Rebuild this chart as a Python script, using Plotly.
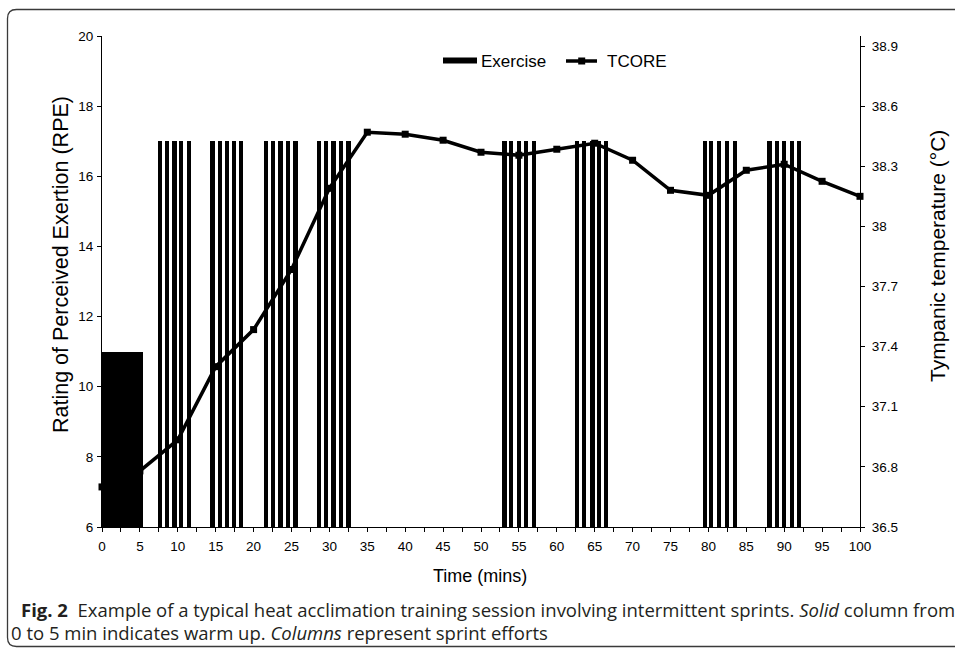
import plotly.graph_objects as go

# ---------------- data ----------------
warmup_time = [2.7]          # centre of the solid warm-up column (min)
warmup_rpe = [11]

sprint_times = [
    7.69, 8.61, 9.56, 10.46, 11.50,
    14.58, 15.53, 16.49, 17.44, 18.38,
    21.64, 22.60, 23.55, 24.50, 25.53,
    28.63, 29.59, 30.54, 31.49, 32.52,
    53.10, 53.98, 55.04, 55.98, 56.97,
    62.69, 63.56, 64.71, 65.53, 66.52,
    79.52, 80.38, 81.36, 82.48, 83.55,
    88.06, 89.05, 90.00, 91.03, 91.93,
]
sprint_rpe = [17] * len(sprint_times)

tcore_time = [0, 5, 10, 15, 20, 25, 30, 35, 40, 45, 50,
              55, 60, 65, 70, 75, 80, 85, 90, 95, 100]
tcore_temp = [36.70, 36.78, 36.935, 37.30, 37.485, 37.785, 38.19, 38.47, 38.46, 38.43, 38.37,
              38.355, 38.385, 38.415, 38.33, 38.18, 38.155, 38.28, 38.31, 38.225, 38.15]

x_tickvals = list(range(0, 101, 5))
rpe_tickvals = [6, 8, 10, 12, 14, 16, 18, 20]
temp_tickvals = [36.5, 36.8, 37.1, 37.4, 37.7, 38.0, 38.3, 38.6, 38.9]
temp_ticktext = ["36.5", "36.8", "37.1", "37.4", "37.7", "38", "38.3", "38.6", "38.9"]

# ---------------- layout geometry ----------------
W, H = 955, 651
L, R, T, B = 102, 95, 36, 124
PW, PH = W - L - R, H - T - B


def px(x):
    return (x - L) / PW


def py(y):
    return (H - B - y) / PH


AX_FONT = "Liberation Sans, Arial, Helvetica, sans-serif"
CAP_FONT = "Open Sans, Noto Sans, sans-serif"

fig = go.Figure()

fig.add_trace(go.Bar(x=warmup_time, y=warmup_rpe, width=[5.4],
                     marker=dict(color="black", line=dict(width=0)),
                     name="Exercise", showlegend=False))
fig.add_trace(go.Bar(x=sprint_times, y=sprint_rpe, width=0.57,
                     marker=dict(color="black", line=dict(width=0)),
                     name="Exercise", showlegend=False))
fig.add_trace(go.Scatter(x=tcore_time, y=tcore_temp, yaxis="y2", mode="lines+markers",
                         line=dict(color="black", width=3.5),
                         marker=dict(symbol="square", size=7, color="black"),
                         cliponaxis=False, name="TCORE", showlegend=False))

axis_common = dict(showgrid=False, zeroline=False, showline=True, linecolor="black",
                   linewidth=1, ticks="outside", ticklen=4, tickcolor="black",
                   tickfont=dict(family=AX_FONT, size=13.5, color="black"))

fig.update_layout(
    width=W, height=H,
    margin=dict(l=L, r=R, t=T, b=B, pad=0),
    paper_bgcolor="white", plot_bgcolor="white",
    bargap=0,
    xaxis=dict(range=[0, 100], tickvals=x_tickvals, ticklabelstandoff=3,
               minor=dict(dtick=2.5, tick0=0, ticks="outside", ticklen=4, tickcolor="black"),
               **axis_common),
    yaxis=dict(range=[6, 20], tickvals=rpe_tickvals, ticklabelstandoff=1, **axis_common),
    yaxis2=dict(range=[36.5, 38.95], tickvals=temp_tickvals, ticktext=temp_ticktext,
                overlaying="y", side="right", ticklabelstandoff=4, **axis_common),
)

# axis titles
fig.add_annotation(text="Time (mins)", xref="paper", yref="paper", x=px(480), y=py(576),
                   xanchor="center", yanchor="middle", showarrow=False,
                   font=dict(family=AX_FONT, size=18, color="black"))
fig.add_annotation(text="Rating of Perceived Exertion (RPE)", xref="paper", yref="paper",
                   x=px(61), y=py(265), textangle=-90, xanchor="center", yanchor="middle",
                   showarrow=False, font=dict(family=AX_FONT, size=21.5, color="black"))
fig.add_annotation(text="Tympanic temperature (°C)", xref="paper", yref="paper",
                   x=px(937), y=py(256), textangle=-90, xanchor="center", yanchor="middle",
                   showarrow=False, font=dict(family=AX_FONT, size=21, color="black"))

# custom legend
fig.add_shape(type="rect", xref="paper", yref="paper", x0=px(443), x1=px(477),
              y0=py(63.5), y1=py(57.5), fillcolor="black", line=dict(width=0))
fig.add_shape(type="line", xref="paper", yref="paper", x0=px(566), x1=px(597),
              y0=py(61), y1=py(61), line=dict(color="black", width=3.5))
fig.add_shape(type="rect", xref="paper", yref="paper", x0=px(578.2), x1=px(585.2),
              y0=py(64.5), y1=py(57.5), fillcolor="black", line=dict(width=0))
fig.add_annotation(text="Exercise", xref="paper", yref="paper", x=px(479), y=py(61),
                   xanchor="left", yanchor="middle", showarrow=False,
                   font=dict(family=AX_FONT, size=17, color="black"))
fig.add_annotation(text="TCORE", xref="paper", yref="paper", x=px(605), y=py(61),
                   xanchor="left", yanchor="middle", showarrow=False,
                   font=dict(family=AX_FONT, size=17, color="black"))

# caption
fig.add_annotation(
    text="<b>Fig. 2</b>  Example of a typical heat acclimation training session involving intermittent sprints. "
         "<i>Solid</i> column from",
    xref="paper", yref="paper", x=px(19), y=py(609), xanchor="left", yanchor="middle",
    showarrow=False, font=dict(family=CAP_FONT, size=18.5, color="#231f20"))
fig.add_annotation(
    text="0 to 5 min indicates warm up. <i>Columns</i> represent sprint efforts",
    xref="paper", yref="paper", x=px(9), y=py(632), xanchor="left", yanchor="middle",
    showarrow=False, font=dict(family=CAP_FONT, size=18.5, color="#231f20"))

# rounded outer frame (open on the right)
xl, xr = px(7.5), px(970)
yt, yb = py(9.5), py(646.5)
dx, dy = 9 / PW, 9 / PH
path = (f"M {xr},{yt} L {xl + dx},{yt} Q {xl},{yt} {xl},{yt - dy} "
        f"L {xl},{yb + dy} Q {xl},{yb} {xl + dx},{yb} L {xr},{yb}")
fig.add_shape(type="path", xref="paper", yref="paper", path=path,
              line=dict(color="#3a3a3a", width=1.3))

fig.write_html("out.html", config={"displayModeBar": False},
               post_script="document.body.style.margin='0';document.body.style.overflow='hidden';")
